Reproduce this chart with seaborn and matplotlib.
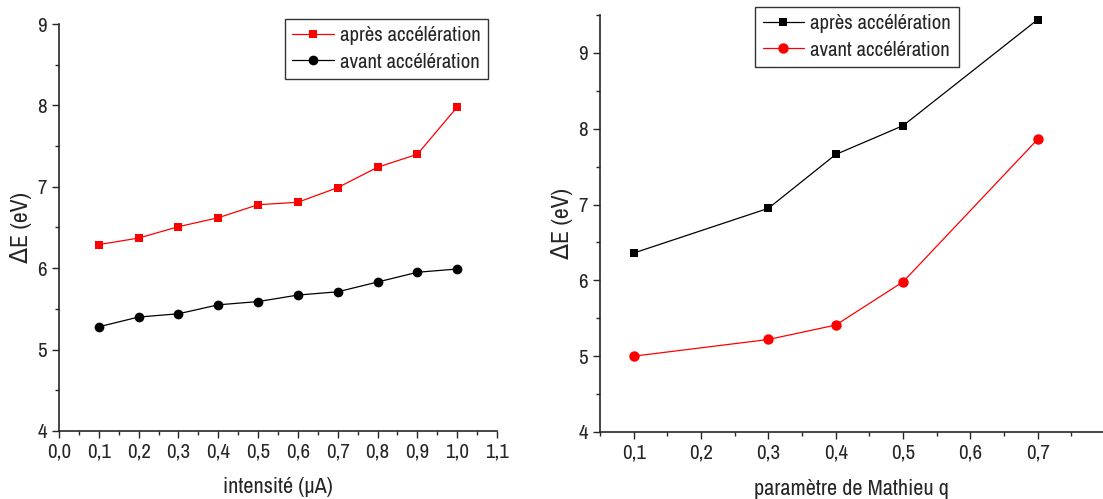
import matplotlib
matplotlib.use("Agg")
import matplotlib.pyplot as plt
import matplotlib.ticker as mticker
import seaborn as sns
import pandas as pd
from matplotlib import font_manager

intensite = [0.1, 0.2, 0.3, 0.4, 0.5, 0.6, 0.7, 0.8, 0.9, 1.0]
apres_int = [6.29, 6.37, 6.51, 6.62, 6.78, 6.81, 6.99, 7.24, 7.40, 7.98]
avant_int = [5.28, 5.40, 5.44, 5.55, 5.59, 5.67, 5.71, 5.83, 5.95, 5.99]

mathieu_q = [0.1, 0.3, 0.4, 0.5, 0.7]
apres_q = [6.36, 6.95, 7.66, 8.04, 9.44]
avant_q = [5.00, 5.22, 5.41, 5.98, 7.86]

sns.set_style("ticks")
names = sorted({f.name for f in font_manager.fontManager.ttflist})
narrow = [n for n in names if "Narrow" in n or "Condensed" in n]
fam = narrow[0] if narrow else "Liberation Sans"
plt.rcParams["font.family"] = [fam, "DejaVu Sans"]
plt.rcParams["font.size"] = 15

comma = mticker.FuncFormatter(lambda v, p: f"{v:.1f}".replace(".", ","))

fig = plt.figure(figsize=(11.03, 4.99), dpi=100)
ax1 = fig.add_axes([0.0535, 0.1363, 0.3971, 0.8156])
ax2 = fig.add_axes([0.544, 0.1343, 0.456, 0.8357])

df1 = pd.DataFrame({"x": intensite, "apres": apres_int, "avant": avant_int})
df2 = pd.DataFrame({"x": mathieu_q, "apres": apres_q, "avant": avant_q})

sns.lineplot(data=df1, x="x", y="apres", ax=ax1, color="red", marker="s",
             markersize=6, markeredgewidth=0, linewidth=0.9, label="après accélération")
sns.lineplot(data=df1, x="x", y="avant", ax=ax1, color="black", marker="o",
             markersize=7, markeredgewidth=0, linewidth=0.9, label="avant accélération")

sns.lineplot(data=df2, x="x", y="apres", ax=ax2, color="black", marker="s",
             markersize=6, markeredgewidth=0, linewidth=0.9, label="après accélération")
sns.lineplot(data=df2, x="x", y="avant", ax=ax2, color="red", marker="o",
             markersize=7.5, markeredgewidth=0, linewidth=0.9, label="avant accélération")

ax1.set_xlim(0.0, 1.1)
ax1.set_ylim(4, 9)
ax2.set_xlim(0.05, 0.797)
ax2.set_ylim(4, 9.5)

for ax in (ax1, ax2):
    sns.despine(ax=ax)
    ax.xaxis.set_major_locator(mticker.MultipleLocator(0.1))
    ax.xaxis.set_minor_locator(mticker.MultipleLocator(0.05))
    ax.yaxis.set_major_locator(mticker.MultipleLocator(1))
    ax.yaxis.set_minor_locator(mticker.MultipleLocator(0.5))
    ax.xaxis.set_major_formatter(comma)
    ax.yaxis.set_major_formatter(mticker.FormatStrFormatter("%d"))
    ax.tick_params(which="major", length=5, width=1, direction="out", labelsize=15)
    ax.tick_params(which="minor", length=3, width=1, direction="out")
    for s in ax.spines.values():
        s.set_linewidth(1.2)
    ax.set_ylabel("ΔE (eV)", fontsize=17)
    leg = ax.legend(frameon=True, fancybox=False, edgecolor="black", fontsize=15,
                    handlelength=2.0, borderpad=0.35, labelspacing=0.35,
                    handletextpad=0.3, borderaxespad=0)
    leg.get_frame().set_linewidth(1.0)

ax1.set_xlabel("intensité (µA)", fontsize=16, labelpad=11)
ax2.set_xlabel("paramètre de Mathieu q", fontsize=16, labelpad=12)
ax1.legend_.set_bbox_to_anchor((0.4425, 0.962), transform=fig.transFigure)
ax1.legend_.set_loc("upper right")
ax2.legend_.set_bbox_to_anchor((0.869, 0.986), transform=fig.transFigure)
ax2.legend_.set_loc("upper right")

fig.savefig("out.png", dpi=100)
